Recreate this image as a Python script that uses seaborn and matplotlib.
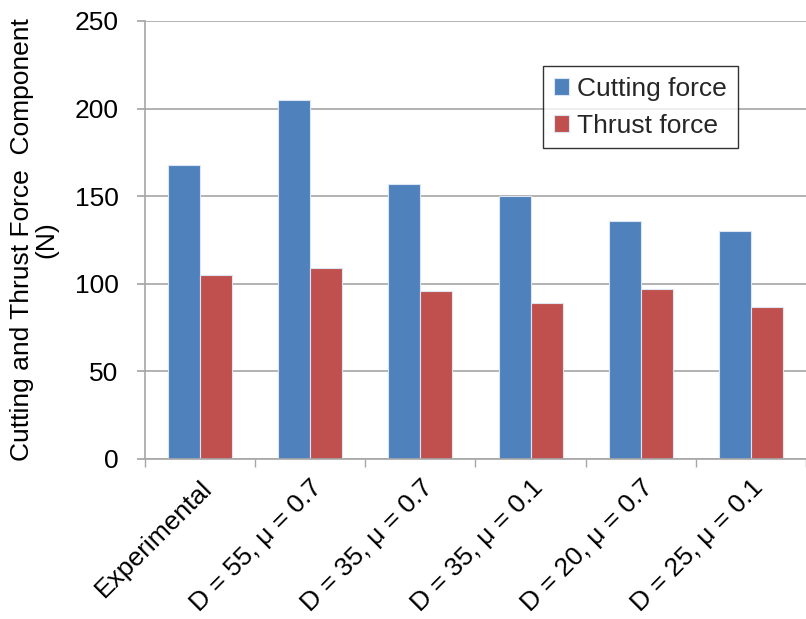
import matplotlib
matplotlib.use("Agg")
import matplotlib.pyplot as plt
import seaborn as sns
import pandas as pd
import numpy as np

categories = ["Experimental", "D = 55, μ = 0.7", "D = 35, μ = 0.7",
              "D = 35, μ = 0.1", "D = 20, μ = 0.7", "D = 25, μ = 0.1"]
cutting_force = [168, 205, 157, 150, 136, 130]
thrust_force = [105, 109, 96, 89, 97, 87]
series_names = ["Cutting force", "Thrust force"]
y_ticks = [0, 50, 100, 150, 200, 250]

df = pd.DataFrame({
    "category": categories * 2,
    "value": cutting_force + thrust_force,
    "series": [series_names[0]] * len(categories) + [series_names[1]] * len(categories),
})

sns.set_theme(style="white")
plt.rcParams["font.family"] = ["Liberation Sans", "DejaVu Sans"]

FS = 19

fig = plt.figure(figsize=(8.06, 6.19), dpi=100)
ax = fig.add_axes([145 / 806, 1 - 459 / 619, (806 - 145) / 806, (459 - 21) / 619])

sns.barplot(data=df, x="category", y="value", hue="series", order=categories,
            hue_order=series_names, palette=["#4F81BD", "#C0504D"],
            width=0.58, edgecolor="#dce6f2", linewidth=0.8, ax=ax, saturation=1)

ax.set_ylim(0, 250)
ax.set_xlim(-0.5, len(categories) - 0.5)
ax.set_yticks(y_ticks)
ax.set_yticklabels([str(t) for t in y_ticks], fontsize=FS, color="black")
ax.yaxis.grid(True, color="#a6a6a6", linewidth=1.2)
ax.set_axisbelow(True)

ax.set_xticks(range(len(categories)))
ax.set_xticklabels(categories, rotation=45, ha="right", rotation_mode="anchor",
                   fontsize=FS, color="black")
ax.set_xticks(np.arange(-0.5, len(categories), 1), minor=True)
ax.tick_params(axis="x", which="major", length=0, pad=12)
ax.tick_params(axis="x", which="minor", length=6, color="#a6a6a6", direction="out", bottom=True)
ax.tick_params(axis="y", which="major", length=6, color="#a6a6a6", direction="out", left=True, pad=13)

for side in ["top", "right"]:
    ax.spines[side].set_visible(False)
for side in ["left", "bottom"]:
    ax.spines[side].set_color("#a6a6a6")
    ax.spines[side].set_linewidth(1.2)

ax.set_xlabel("")
ax.set_ylabel("Cutting and Thrust Force  Component\n(N)", fontsize=FS, color="black",
              linespacing=1.0, labelpad=12)

leg = ax.legend(loc="upper left", bbox_to_anchor=((543 - 145) / 661, 1 - (66 - 21) / 438),
                fontsize=FS, frameon=True, fancybox=False, edgecolor="black",
                handlelength=0.6, handleheight=0.6, handletextpad=0.3,
                borderpad=0.4, labelspacing=0.5, borderaxespad=0)
leg.get_frame().set_linewidth(1.0)

fig.savefig("out.png", dpi=100)
